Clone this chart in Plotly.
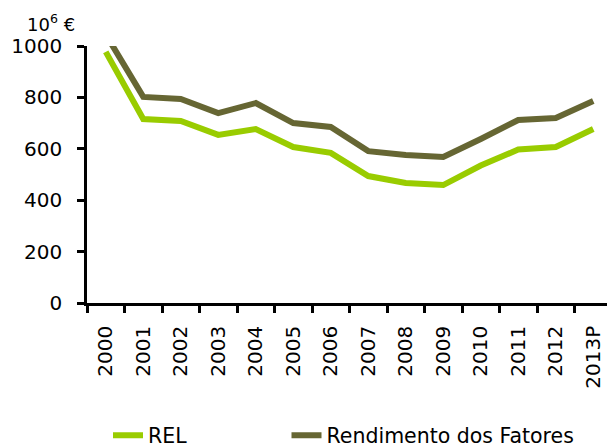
import plotly.graph_objects as go

years = ["2000", "2001", "2002", "2003", "2004", "2005", "2006",
         "2007", "2008", "2009", "2010", "2011", "2012", "2013P"]
rel = [977, 716, 708, 654, 677, 607, 584, 494, 467, 459, 535, 597, 607, 677]
rend_fatores = [1045, 802, 794, 739, 778, 700, 685, 591, 576, 568, 638, 712, 720, 786]
y_ticks = [0, 200, 400, 600, 800, 1000]

FONT = "DejaVu Sans"
fig = go.Figure()
fig.add_trace(go.Scatter(x=years, y=rel, name="REL", mode="lines", legend="legend",
                         line=dict(color="#99CC00", width=6)))
fig.add_trace(go.Scatter(x=years, y=rend_fatores, name="Rendimento dos Fatores", mode="lines",
                         legend="legend2", line=dict(color="#666633", width=6)))

leg_common = dict(orientation="h", yanchor="middle", xanchor="left",
                  font=dict(family=FONT, size=20.5), itemwidth=30,
                  bgcolor="rgba(0,0,0,0)")
# page body has an 8px default margin, so the figure is sized/offset to compensate
fig.update_layout(
    width=607, height=440,
    margin=dict(l=79, r=3, t=38, b=145, autoexpand=False),
    paper_bgcolor="white", plot_bgcolor="white",
    font=dict(family=FONT, size=20, color="black"),
    showlegend=True,
    legend=dict(x=0.04, y=-0.515, **leg_common),
    legend2=dict(x=0.38, y=-0.515, **leg_common),
    xaxis=dict(type="category", range=[-0.5, len(years) - 0.5], showgrid=False, showline=True,
               linecolor="black", linewidth=2.5, automargin=False,
               ticks="outside", ticklen=7, tickwidth=2.5, tickcolor="black", tickson="boundaries",
               tickangle=-90, ticklabelstandoff=12, tickfont=dict(family=FONT, size=20),
               zeroline=False),
    yaxis=dict(range=[0, 1000], tickvals=y_ticks, showgrid=False, showline=True, linecolor="black",
               linewidth=2.5, ticks="outside", ticklen=7, tickwidth=2.5, tickcolor="black",
               automargin=False, ticklabelstandoff=11,
               tickfont=dict(family=FONT, size=20), zeroline=False),
)
fig.add_annotation(text="10<sup>6</sup> €", xref="paper", yref="paper", x=0, y=1.0,
                   xanchor="right", yanchor="bottom", xshift=-10, yshift=9, showarrow=False,
                   font=dict(family=FONT, size=18))
fig.write_html("out.html")
